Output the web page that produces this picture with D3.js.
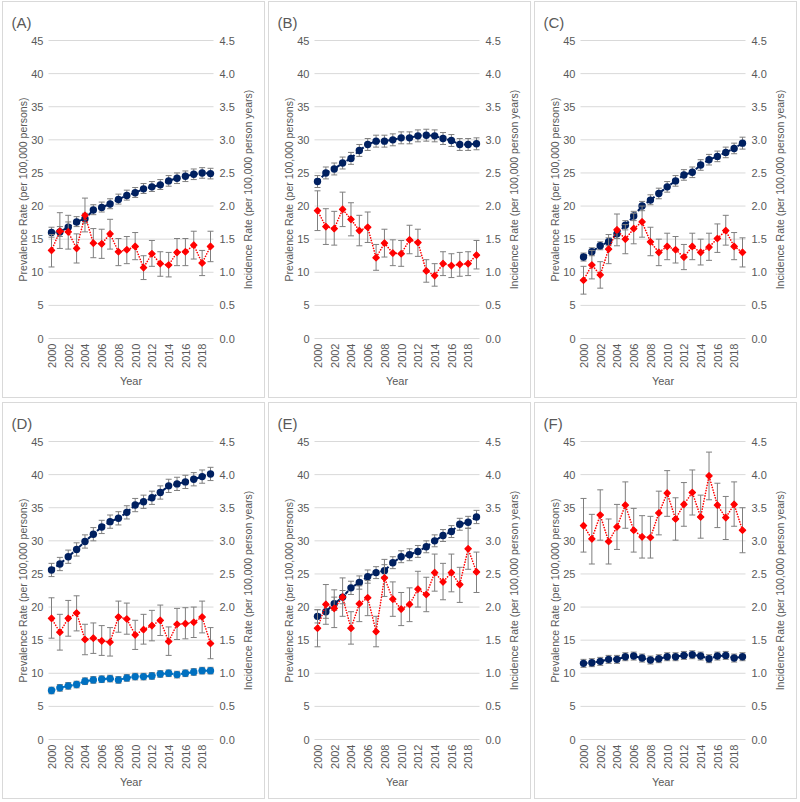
<!DOCTYPE html>
<html><head><meta charset="utf-8">
<script src="https://cdn.jsdelivr.net/npm/d3@7"></script>
<style>body{margin:0;background:#fff;} text{font-family:Arial,"Liberation Sans",sans-serif;}</style>
</head><body><svg id="c" width="800" height="802"></svg>
<script>
const years = d3.range(2000, 2020);
const tickYears = [2000,2002,2004,2006,2008,2010,2012,2014,2016,2018];
const prevTicks = [0,5,10,15,20,25,30,35,40,45];
const incTicks = ["0.0","0.5","1.0","1.5","2.0","2.5","3.0","3.5","4.0","4.5"];
const panelLabels = ["(A)","(B)","(C)","(D)","(E)","(F)"];

// Prevalence (left axis) – dark blue
const prevA = [16.0,16.1,16.8,17.6,18.1,19.4,19.8,20.3,21.0,21.6,22.0,22.6,22.9,23.2,23.8,24.2,24.5,24.8,25.0,24.9];
const prevAlo = [15.3,15.4,16.1,16.9,17.4,18.7,19.1,19.6,20.3,20.9,21.3,21.9,22.2,22.5,23.0,23.4,23.7,24.0,24.2,24.1];
const prevAhi = [16.8,16.9,17.6,18.4,18.9,20.2,20.6,21.1,21.8,22.4,22.8,23.4,23.7,24.0,24.6,25.0,25.3,25.6,25.8,25.7];
const prevB = [23.7,25.0,25.6,26.5,27.2,28.4,29.3,29.8,29.8,30.0,30.3,30.3,30.6,30.7,30.6,30.2,29.9,29.3,29.3,29.4];
const prevBlo = [22.8,24.1,24.7,25.6,26.3,27.5,28.4,28.9,28.9,29.1,29.4,29.4,29.7,29.8,29.7,29.3,29.0,28.4,28.4,28.5];
const prevBhi = [24.6,25.9,26.5,27.4,28.1,29.3,30.2,30.7,30.7,30.9,31.2,31.2,31.5,31.6,31.5,31.1,30.8,30.2,30.2,30.3];
const prevC = [12.3,13.1,14.0,14.6,15.8,17.1,18.5,20.0,20.9,21.9,22.9,23.8,24.7,25.1,26.2,27.0,27.5,28.1,28.7,29.5];
const prevClo = [11.7,12.5,13.4,14.0,15.1,16.4,17.8,19.3,20.2,21.1,22.1,23.0,23.9,24.3,25.4,26.2,26.7,27.3,27.9,28.6];
const prevChi = [12.9,13.7,14.6,15.2,16.5,17.8,19.2,20.7,21.7,22.7,23.7,24.6,25.5,25.9,27.0,27.8,28.3,28.9,29.5,30.4];
const prevD = [25.6,26.5,27.6,28.7,29.9,31.0,32.1,32.9,33.4,34.3,35.4,35.9,36.5,37.3,38.3,38.6,38.9,39.3,39.7,40.1];
const prevDlo = [24.6,25.5,26.6,27.7,28.9,30.0,31.1,31.9,32.4,33.3,34.4,34.9,35.5,36.3,37.3,37.6,37.9,38.3,38.7,39.1];
const prevDhi = [26.6,27.5,28.6,29.7,30.9,32.0,33.1,33.9,34.4,35.3,36.4,36.9,37.5,38.3,39.3,39.6,39.9,40.3,40.7,41.1];
const prevD2 = [7.4,7.8,8.1,8.3,8.8,9.0,9.1,9.2,9.0,9.3,9.5,9.5,9.6,9.9,10.0,9.8,10.0,10.2,10.4,10.4];
const prevD2lo = [6.9,7.3,7.6,7.8,8.3,8.5,8.6,8.7,8.5,8.8,9.0,9.0,9.1,9.4,9.5,9.3,9.5,9.7,9.9,9.9];
const prevD2hi = [7.9,8.3,8.6,8.8,9.3,9.5,9.6,9.7,9.5,9.8,10.0,10.0,10.1,10.4,10.5,10.3,10.5,10.7,10.9,10.9];
const prevE = [18.6,19.3,20.5,21.5,22.9,23.7,24.6,25.2,25.5,26.7,27.6,27.9,28.4,29.1,30.0,30.8,31.4,32.5,32.8,33.6];
const prevElo = [17.6,18.3,19.5,20.5,21.9,22.7,23.6,24.3,24.6,25.8,26.7,27.0,27.5,28.2,29.1,29.9,30.5,31.6,31.9,32.6];
const prevEhi = [19.6,20.3,21.5,22.5,23.9,24.7,25.6,26.1,26.4,27.6,28.5,28.8,29.3,30.0,30.9,31.7,32.3,33.4,33.7,34.6];
const prevF = [11.5,11.6,11.8,12.1,12.1,12.5,12.6,12.3,12.0,12.2,12.5,12.5,12.7,12.8,12.6,12.2,12.6,12.7,12.3,12.5];
const prevFlo = [10.9,11.0,11.2,11.5,11.5,11.9,12.0,11.7,11.4,11.6,11.9,11.9,12.1,12.2,12.0,11.6,12.0,12.1,11.7,11.9];
const prevFhi = [12.1,12.2,12.4,12.7,12.7,13.1,13.2,12.9,12.6,12.8,13.1,13.1,13.3,13.4,13.2,12.8,13.2,13.3,12.9,13.1];

// Incidence (right axis) – red
const incA = [1.33,1.62,1.61,1.36,1.86,1.44,1.43,1.58,1.31,1.34,1.39,1.07,1.28,1.13,1.11,1.30,1.31,1.41,1.14,1.39];
const incAlo = [1.08,1.36,1.35,1.14,1.61,1.22,1.21,1.35,1.10,1.13,1.19,0.89,1.09,0.94,0.93,1.10,1.10,1.20,0.95,1.16];
const incAhi = [1.57,1.90,1.86,1.58,2.12,1.66,1.65,1.80,1.51,1.54,1.60,1.25,1.48,1.31,1.30,1.51,1.51,1.62,1.33,1.62];
const incB = [1.93,1.69,1.66,1.95,1.80,1.63,1.68,1.22,1.44,1.29,1.28,1.49,1.45,1.02,0.95,1.13,1.10,1.12,1.13,1.26];
const incBlo = [1.63,1.42,1.41,1.69,1.55,1.40,1.45,1.03,1.23,1.10,1.09,1.28,1.24,0.85,0.79,0.95,0.92,0.94,0.95,1.05];
const incBhi = [2.23,1.96,1.92,2.21,2.05,1.86,1.91,1.42,1.65,1.49,1.48,1.71,1.65,1.19,1.13,1.31,1.28,1.30,1.31,1.48];
const incC = [0.88,1.11,0.96,1.35,1.64,1.50,1.66,1.76,1.46,1.30,1.39,1.34,1.23,1.39,1.30,1.38,1.51,1.63,1.39,1.30];
const incClo = [0.67,0.90,0.76,1.13,1.40,1.28,1.43,1.53,1.25,1.10,1.19,1.14,1.04,1.19,1.11,1.18,1.30,1.41,1.19,1.08];
const incChi = [1.09,1.33,1.16,1.57,1.88,1.72,1.89,2.00,1.68,1.50,1.59,1.54,1.42,1.59,1.50,1.59,1.73,1.86,1.60,1.52];
const incD = [1.83,1.62,1.83,1.91,1.51,1.53,1.49,1.47,1.85,1.82,1.58,1.66,1.72,1.80,1.48,1.74,1.75,1.77,1.85,1.45];
const incDlo = [1.53,1.35,1.56,1.64,1.28,1.30,1.27,1.26,1.62,1.59,1.36,1.44,1.49,1.57,1.27,1.51,1.52,1.54,1.61,1.22];
const incDhi = [2.14,1.89,2.10,2.17,1.74,1.76,1.72,1.69,2.09,2.06,1.80,1.89,1.95,2.03,1.70,1.98,1.99,2.00,2.09,1.69];
const incE = [1.68,2.04,1.98,2.15,1.68,2.05,2.14,1.63,2.44,2.12,1.97,2.04,2.27,2.19,2.52,2.38,2.52,2.34,2.88,2.53];
const incElo = [1.40,1.74,1.69,1.86,1.44,1.78,1.87,1.40,2.16,1.86,1.72,1.78,2.00,1.93,2.24,2.11,2.23,2.07,2.57,2.22];
const incEhi = [1.96,2.34,2.26,2.44,1.93,2.32,2.40,1.86,2.72,2.38,2.22,2.29,2.54,2.45,2.80,2.66,2.80,2.60,3.19,2.83];
const incF = [3.23,3.03,3.39,2.99,3.21,3.54,3.16,3.06,3.05,3.42,3.72,3.33,3.55,3.73,3.36,3.98,3.54,3.35,3.55,3.16];
const incFlo = [2.83,2.65,3.01,2.65,2.87,3.19,2.83,2.74,2.74,3.09,3.37,3.01,3.22,3.39,3.04,3.62,3.20,3.02,3.22,2.82];
const incFhi = [3.64,3.40,3.77,3.33,3.55,3.89,3.49,3.38,3.37,3.75,4.06,3.65,3.88,4.07,3.69,4.34,3.87,3.67,3.89,3.50];

const navy = "#002060", lightBlue = "#0070C0", red = "#FF0000";
const panels = [
  {prev:[[prevA,prevAlo,prevAhi,navy]], inc:[incA,incAlo,incAhi]},
  {prev:[[prevB,prevBlo,prevBhi,navy]], inc:[incB,incBlo,incBhi]},
  {prev:[[prevC,prevClo,prevChi,navy]], inc:[incC,incClo,incChi]},
  {prev:[[prevD,prevDlo,prevDhi,navy],[prevD2,prevD2lo,prevD2hi,lightBlue]], inc:[incD,incDlo,incDhi]},
  {prev:[[prevE,prevElo,prevEhi,navy]], inc:[incE,incElo,incEhi]},
  {prev:[[prevF,prevFlo,prevFhi,navy]], inc:[incF,incFlo,incFhi]}
];

const svg = d3.select("#c");
const colX = [2.5, 268.5, 534.5], rowY = [1.5, 402.5];
const PW = 262, PH = 396;
const m = {l:49, r:54, t:39, b:59};
const textCol = "#595959", gridCol = "#d9d9d9", errCol = "#7f7f7f";
const FONT = "Arial, Liberation Sans, sans-serif";

panels.forEach((p, i) => {
  const g = svg.append("g").attr("transform", `translate(${colX[i%3]},${rowY[Math.floor(i/3)]})`);
  g.append("rect").attr("width", PW).attr("height", PH).attr("fill", "#fff").attr("stroke", gridCol).attr("stroke-width", 1);
  const x = d3.scalePoint().domain(years).range([m.l, PW - m.r]);
  const yL = d3.scaleLinear().domain([0, 45]).range([PH - m.b, m.t]);
  const yR = d3.scaleLinear().domain([0, 4.5]).range([PH - m.b, m.t]);

  // gridlines
  g.append("g").selectAll("line").data(prevTicks).join("line")
    .attr("x1", m.l - 3).attr("x2", PW - m.r + 3)
    .attr("y1", d => yL(d)).attr("y2", d => yL(d))
    .attr("stroke", gridCol).attr("stroke-width", 1);

  // left axis
  const la = g.append("g").attr("transform", `translate(${m.l - 8},0)`)
    .call(d3.axisLeft(yL).tickValues(prevTicks).tickSize(0).tickPadding(0));
  la.select(".domain").remove();
  la.selectAll("text").attr("fill", textCol).style("font-size", "11px").attr("font-family", FONT);

  const ra = g.append("g").attr("transform", `translate(${PW - m.r + 9},0)`)
    .call(d3.axisRight(yR).tickValues(incTicks.map(Number)).tickFormat(d3.format(".1f")).tickSize(0).tickPadding(0));
  ra.select(".domain").remove();
  ra.selectAll("text").attr("fill", textCol).style("font-size", "11px").attr("font-family", FONT);

  // x axis
  const xa = g.append("g").attr("transform", `translate(0,${PH - m.b})`)
    .call(d3.axisBottom(x).tickValues(tickYears).tickSize(0).tickPadding(0));
  xa.select(".domain").remove();
  xa.selectAll("text").attr("fill", textCol).style("font-size", "11px")
    .attr("font-family", FONT)
    .attr("transform", "rotate(-90)").attr("text-anchor", "end")
    .attr("x", -5).attr("y", 0).attr("dy", "0.35em");

  // titles
  g.append("text").attr("x", 9).attr("y", 26).text(panelLabels[i])
    .attr("fill", textCol).style("font-size", "15px");
  g.append("text").attr("x", (m.l + PW - m.r) / 2).attr("y", 383).attr("text-anchor", "middle")
    .text("Year").attr("fill", textCol).style("font-size", "11px");
  const cy = (m.t + PH - m.b) / 2;
  g.append("text").attr("transform", `translate(21,${cy}) rotate(-90)`).attr("text-anchor", "middle")
    .attr("dy", "0.35em").text("Prevalence Rate (per 100,000 persons)").attr("fill", textCol).style("font-size", "10.5px");
  g.append("text").attr("transform", `translate(${PW - 16},${cy}) rotate(-90)`).attr("text-anchor", "middle")
    .attr("dy", "0.35em").text("Incidence Rate (per 100,000 person years)").attr("fill", textCol).style("font-size", "10.5px");

  function errBars(vals, lo, hi, y) {
    const eg = g.append("g").attr("stroke", errCol).attr("stroke-width", 1);
    eg.selectAll(".v").data(years).join("line")
      .attr("x1", (d) => x(d)).attr("x2", d => x(d))
      .attr("y1", (d, j) => y(lo[j])).attr("y2", (d, j) => y(hi[j]));
    eg.selectAll(".t").data(years).join("line")
      .attr("x1", d => x(d) - 3).attr("x2", d => x(d) + 3)
      .attr("y1", (d, j) => y(hi[j])).attr("y2", (d, j) => y(hi[j]));
    eg.selectAll(".b").data(years).join("line")
      .attr("x1", d => x(d) - 3).attr("x2", d => x(d) + 3)
      .attr("y1", (d, j) => y(lo[j])).attr("y2", (d, j) => y(lo[j]));
  }

  // prevalence series
  p.prev.forEach(([vals, lo, hi, col]) => {
    errBars(vals, lo, hi, yL);
    g.append("path").datum(vals)
      .attr("d", d3.line().x((d, j) => x(years[j])).y(d => yL(d)))
      .attr("fill", "none").attr("stroke", col).attr("stroke-width", 2).attr("stroke-dasharray", "4,2");
    g.append("g").selectAll("circle").data(vals).join("circle")
      .attr("cx", (d, j) => x(years[j])).attr("cy", d => yL(d)).attr("r", 3.7).attr("fill", col);
  });

  // incidence series
  const [iv, ilo, ihi] = p.inc;
  errBars(iv, ilo, ihi, yR);
  g.append("path").datum(iv)
    .attr("d", d3.line().x((d, j) => x(years[j])).y(d => yR(d)))
    .attr("fill", "none").attr("stroke", red).attr("stroke-width", 1.6)
    .attr("stroke-dasharray", "0.1,2.6").attr("stroke-linecap", "round");
  g.append("g").selectAll("path.m").data(iv).join("path")
    .attr("d", d3.symbol().type(d3.symbolSquare).size(20))
    .attr("transform", (d, j) => `translate(${x(years[j])},${yR(d)}) rotate(45)`)
    .attr("fill", red).attr("stroke", red).attr("stroke-width", 1.2).attr("stroke-linejoin", "round");
});
</script></body></html>
